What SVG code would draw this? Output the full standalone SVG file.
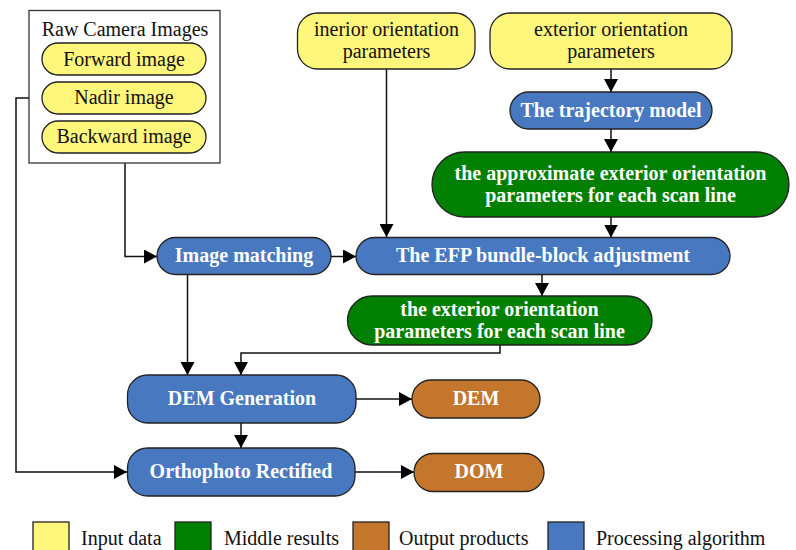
<svg xmlns="http://www.w3.org/2000/svg" width="796" height="550" viewBox="0 0 796 550">
  <style>
    .in { fill: #FFF67C; stroke: #222; stroke-width: 1.3; }
    .mid { fill: #007F00; stroke: #222; stroke-width: 1.3; }
    .out { fill: #C4772C; stroke: #222; stroke-width: 1.3; }
    .proc { fill: #4878BF; stroke: #222; stroke-width: 1.3; }
    .frame { fill: #fff; stroke: #333; stroke-width: 1.3; }
    .t { font-family: "Liberation Serif", "Times New Roman", serif; font-size: 20px; fill: #111; text-anchor: middle; }
    .tb { font-family: "Liberation Serif", "Times New Roman", serif; font-size: 20px; font-weight: bold; fill: #fff; text-anchor: middle; }
    .lt { font-family: "Liberation Serif", "Times New Roman", serif; font-size: 20px; fill: #111; }
    .conn { fill: none; stroke: #111; stroke-width: 1.5; }
  </style>
  <defs>
    <marker id="arrow" markerWidth="13" markerHeight="14" refX="13" refY="7" orient="auto" markerUnits="userSpaceOnUse">
      <path d="M0,0 L13,7 L0,14 Z" fill="#000"/>
    </marker>
  </defs>

  <rect width="796" height="550" fill="#fff"/>

  <!-- connectors -->
  <g id="connectors" class="conn" marker-end="url(#arrow)">
    <path d="M125,163 V256.5 H157"/>
    <path d="M29,98 H16 V472 H127"/>
    <path d="M386.5,69 V237"/>
    <path d="M611,69 V92"/>
    <path d="M611,129 V152"/>
    <path d="M611,217 V237.5"/>
    <path d="M331,256.5 H356"/>
    <path d="M542,274 V296"/>
    <path d="M187.5,275 V375"/>
    <path d="M500,345 V353 H241 V375"/>
    <path d="M241,423 V448"/>
    <path d="M356,399 H412"/>
    <path d="M355,472 H414"/>
  </g>

  <!-- raw camera images -->
  <g id="raw-images">
    <rect class="frame" x="29" y="10.5" width="191" height="152.5"/>
    <text class="t" x="125" y="36">Raw Camera Images</text>
    <g id="forward">
      <rect class="in" x="42" y="43" width="164" height="32" rx="16"/>
      <text class="t" x="124" y="65.5">Forward image</text>
    </g>
    <g id="nadir">
      <rect class="in" x="42" y="82" width="164" height="32" rx="16"/>
      <text class="t" x="124" y="104">Nadir image</text>
    </g>
    <g id="backward">
      <rect class="in" x="42" y="121" width="164" height="32" rx="16"/>
      <text class="t" x="124" y="143">Backward image</text>
    </g>
  </g>

  <g id="interior">
    <rect class="in" x="297.5" y="13" width="177.5" height="56" rx="20"/>
    <text class="t" x="386.5" y="36">inerior orientation</text>
    <text class="t" x="386.5" y="58">parameters</text>
  </g>

  <g id="exterior">
    <rect class="in" x="490" y="13" width="242" height="56" rx="20"/>
    <text class="t" x="611" y="36">exterior orientation</text>
    <text class="t" x="611" y="58">parameters</text>
  </g>

  <g id="trajectory">
    <rect class="proc" x="510" y="92" width="202" height="37" rx="18.5"/>
    <text class="tb" x="611" y="117">The trajectory model</text>
  </g>

  <g id="approx-eop">
    <rect class="mid" x="432" y="152" width="357" height="65" rx="32.5"/>
    <text class="tb" x="610.5" y="179.5">the approximate exterior orientation</text>
    <text class="tb" x="610.5" y="201.5">parameters for each scan line</text>
  </g>

  <g id="image-matching">
    <rect class="proc" x="157" y="237.5" width="174" height="37" rx="18.5"/>
    <text class="tb" x="244" y="262">Image matching</text>
  </g>

  <g id="efp-adjustment">
    <rect class="proc" x="356" y="237.5" width="374" height="37" rx="18.5"/>
    <text class="tb" x="543" y="262">The EFP bundle-block adjustment</text>
  </g>

  <g id="eop">
    <rect class="mid" x="347.5" y="296" width="304.5" height="49" rx="24.5"/>
    <text class="tb" x="499.5" y="316">the exterior orientation</text>
    <text class="tb" x="499.5" y="337.5">parameters for each scan line</text>
  </g>

  <g id="dem-generation">
    <rect class="proc" x="127.5" y="375" width="228.5" height="48" rx="20"/>
    <text class="tb" x="242" y="405">DEM Generation</text>
  </g>

  <g id="dem">
    <rect class="out" x="412" y="380" width="128" height="38" rx="19"/>
    <text class="tb" x="476" y="405">DEM</text>
  </g>

  <g id="orthophoto">
    <rect class="proc" x="127.5" y="448" width="227.5" height="48" rx="20"/>
    <text class="tb" x="241" y="478">Orthophoto Rectified</text>
  </g>

  <g id="dom">
    <rect class="out" x="414" y="453.5" width="130" height="38" rx="19"/>
    <text class="tb" x="479" y="478">DOM</text>
  </g>

  <!-- legend -->
  <g id="legend">
    <rect class="in" x="33" y="522" width="36" height="36"/>
    <text class="lt" x="81" y="545">Input data</text>
    <rect class="mid" x="175" y="522" width="36" height="36"/>
    <text class="lt" x="224" y="545">Middle results</text>
    <rect class="out" x="353" y="522" width="36" height="36"/>
    <text class="lt" x="399" y="545">Output products</text>
    <rect class="proc" x="548" y="522" width="36" height="36"/>
    <text class="lt" x="596" y="545">Processing algorithm</text>
  </g>
</svg>
